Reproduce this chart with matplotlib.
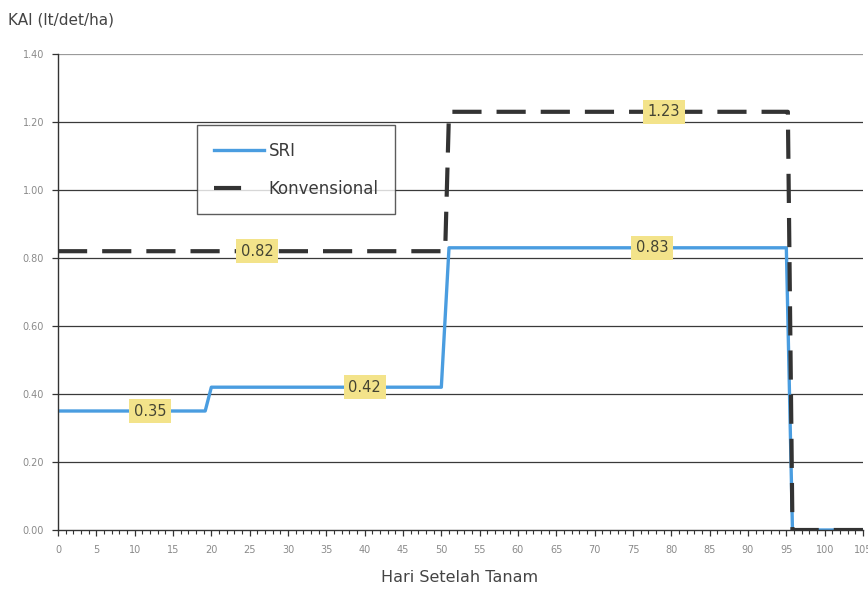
import matplotlib
matplotlib.use("Agg")
import matplotlib.pyplot as plt
from matplotlib.ticker import MultipleLocator
from matplotlib.lines import Line2D

# Data
sri_days = [0, 19.2, 20, 50, 51, 95, 95.8, 105]
sri_vals = [0.35, 0.35, 0.42, 0.42, 0.83, 0.83, 0.0, 0.0]
konv_days = [0, 50.5, 51, 95.2, 95.8, 105]
konv_vals = [0.82, 0.82, 1.23, 1.23, 0.0, 0.0]

# value labels (x position in days, value)
sri_label_days = [12, 40, 77.5]
sri_label_vals = [0.35, 0.42, 0.83]
konv_label_days = [26, 79]
konv_label_vals = [0.82, 1.23]

y_ticks = [0.0, 0.2, 0.4, 0.6, 0.8, 1.0, 1.2, 1.4]
x_ticks = list(range(0, 106, 5))

fig = plt.figure(figsize=(8.68, 5.91), dpi=100)
ax = fig.add_axes([58/868, 1-530/591, (863-58)/868, (530-54)/591])

ax.set_xlim(0, 105)
ax.set_ylim(0, 1.4)

# grid lines
for v in y_ticks[1:]:
    ax.axhline(v, color="#9a9a9a" if v == 1.4 else "#3a3a3a", lw=0.9, zorder=1)

ax.plot(konv_days, konv_vals, color="#333333", lw=3.0, dashes=(7, 3.6),
        label="Konvensional", zorder=3, solid_capstyle="butt")
ax.plot(sri_days, sri_vals, color="#4a9de0", lw=2.4, label="SRI", zorder=2)

box = dict(boxstyle="square,pad=0.32", fc="#f3e38a", ec="none")
for d, v in zip(sri_label_days, sri_label_vals):
    ax.text(d, v, f"{v:.2f}", ha="center", va="center", fontsize=10.5,
            color="#444433", bbox=box, zorder=5)
for d, v in zip(konv_label_days, konv_label_vals):
    ax.text(d, v, f"{v:.2f}", ha="center", va="center", fontsize=10.5,
            color="#444433", bbox=box, zorder=5)

ax.set_yticks(y_ticks)
ax.set_yticklabels([f"{v:.2f}" for v in y_ticks])
ax.set_xticks(x_ticks)
ax.set_xticklabels([str(v) for v in x_ticks])
ax.xaxis.set_minor_locator(MultipleLocator(1))

ax.tick_params(axis="both", which="major", labelsize=7, labelcolor="#8a8a8a",
               color="#333333", length=4, width=0.9)
ax.tick_params(axis="x", which="minor", length=3, width=0.8, color="#333333")
ax.tick_params(axis="x", which="major", pad=7)
ax.tick_params(axis="y", which="major", pad=6)

for s in ["top", "right"]:
    ax.spines[s].set_visible(False)
for s in ["left", "bottom"]:
    ax.spines[s].set_color("#333333")
    ax.spines[s].set_linewidth(1.0)

# legend (proxy handles styled like the reference legend)
sri_h = Line2D([], [], color="#4a9de0", lw=2.4)
konv_h = Line2D([], [], color="#333333", lw=3.0, dashes=(6.5, 30))
leg = ax.legend([sri_h, konv_h], ["SRI", "Konvensional"],
                loc="upper left", bbox_to_anchor=((197-58)/805, (530-125)/476),
                frameon=True, fancybox=False, edgecolor="#333333",
                prop={"size": 12},
                handlelength=3.0, labelspacing=1.2,
                borderpad=1.0, handletextpad=0.3, borderaxespad=0)
leg.get_frame().set_linewidth(1.0)
for t in leg.get_texts():
    t.set_color("#3a3a3a")

fig.text(8/868, 1-20/591, "KAI (lt/det/ha)", fontsize=11, color="#444444",
         ha="left", va="center")
fig.text(460/868, 1-578/591, "Hari Setelah Tanam", fontsize=11.5,
         color="#444444", ha="center", va="center")

fig.savefig("out.png", dpi=100)
